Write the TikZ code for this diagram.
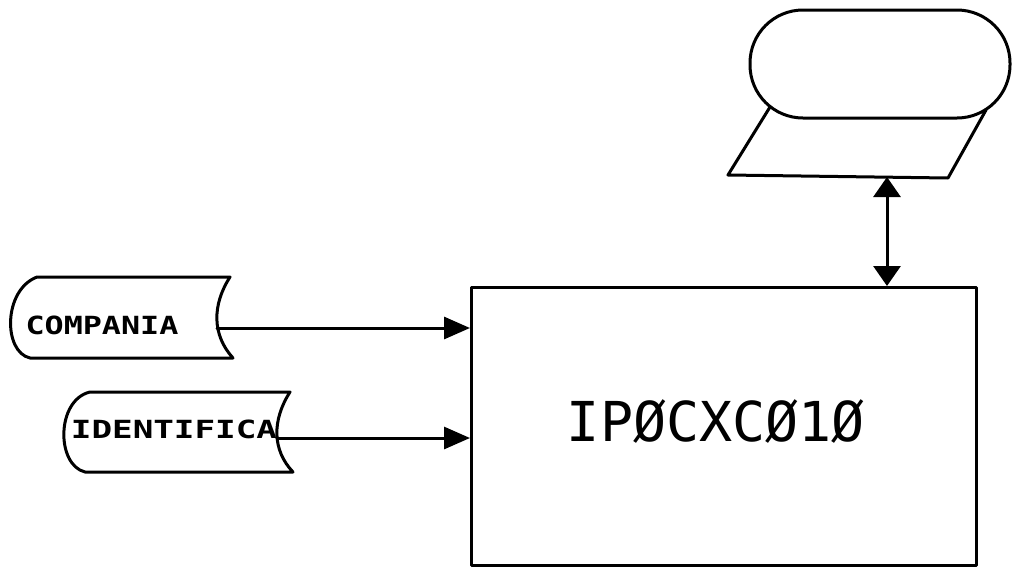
\documentclass[tikz,border=0pt]{standalone}
\usepackage{fontspec}
\newfontfamily\mainfnt{DejaVu Sans Mono}
\newfontfamily\smallfnt{DejaVu Sans Mono}
\usetikzlibrary{arrows.meta}
\begin{document}
\begin{tikzpicture}[x=1pt,y=-1pt,line width=3pt,line join=round,line cap=round,
  conn/.style={line width=3pt},
  tipL/.style={-{Triangle[length=26pt,width=22pt]}},
  tipLR/.style={{Triangle[length=20pt,width=27pt]}-{Triangle[length=20pt,width=27pt]}},
  docshape/.style={line width=3pt, fill=white},
  lab/.style={font=\smallfnt\bfseries\fontsize{25}{25}\selectfont, inner sep=0pt},
  proc/.style={draw, line width=3pt, minimum width=505pt, minimum height=278pt, inner sep=0pt}]
\useasboundingbox (0,0) rectangle (1012,573);

% main process box
\node[proc, anchor=north west] (box) at (470,286) {};
\node[font=\mainfnt\fontsize{55}{55}\selectfont, inner sep=0pt] (name) at (716,421) {IPØCXCØ1Ø};

% COMPANIA document-like shape
\draw[docshape] (37,277) -- (230,277) .. controls (212,305) and (212,335) .. (233,358)
  -- (30,358) .. controls (3,352) and (3,290) .. (37,277) -- cycle;
\coordinate (c1) at (217,328);
\node[lab] (t1) at (102,325) {\scalebox{1.27}[1]{COMPANIA}};

% IDENTIFICA document-like shape
\draw[docshape] (90,392) -- (290,392) .. controls (272,420) and (272,450) .. (293,472)
  -- (85,472) .. controls (56,465) and (56,400) .. (90,392) -- cycle;
\coordinate (c2) at (277,438);
\node[lab] (t2) at (174,429) {\scalebox{1.37}[1]{IDENTIFICA}};

% top storage symbol
\draw[line width=3pt] (770,107) -- (728,175) -- (948,178) -- (986,110);
\node[draw, fill=white, line width=3pt, rounded corners=53pt, minimum width=260pt, minimum height=108pt, inner sep=0pt] (disp) at (880,64) {};
\coordinate (p) at (887,177);

% connectors
\draw[conn, tipL] (c1) -- (c1 -| box.west);
\draw[conn, tipL] (c2) -- (c2 -| box.west);
\draw[conn, tipLR] (p) -- (p |- box.north);
\end{tikzpicture}
\end{document}
